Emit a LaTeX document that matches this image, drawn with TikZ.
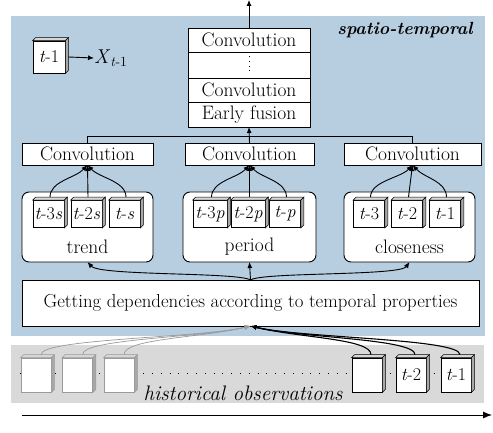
\documentclass[tikz,border=0pt]{standalone}
\usetikzlibrary{arrows.meta}
\definecolor{stblue}{HTML}{B7CDE0}
\definecolor{bandgray}{HTML}{D9D9D9}
\definecolor{fadegray}{HTML}{9A9A9A}
\definecolor{topgray}{HTML}{D6D6D6}
\definecolor{sidegray}{HTML}{A8A8A8}
\newcommand{\cubenode}[5][black]{%
  \node[#2, draw=#1] (#3) at #4 {#5};
  \draw[#1, fill=topgray, line width=0.6pt] (#3.north west) -- ++(3pt,3pt) -- ([shift={(3pt,3pt)}]#3.north east) -- (#3.north east) -- cycle;
  \draw[#1, fill=sidegray, line width=0.6pt] (#3.north east) -- ++(3pt,3pt) -- ([shift={(3pt,3pt)}]#3.south east) -- (#3.south east) -- cycle;
}
\begin{document}
\begin{tikzpicture}[x=1pt,y=-1pt,
  every node/.style={font=\fontsize{19.5}{21}\selectfont},
  box/.style={draw, fill=white, line width=0.9pt, inner sep=0pt, outer sep=0pt},
  stackcell/.style={box, minimum width=122pt},
  convbox/.style={box, minimum height=22pt},
  groupbox/.style={box, rounded corners=7pt, minimum width=131pt, minimum height=70pt},
  smallcube/.style={fill=white, line width=0.8pt, inner sep=0pt, minimum width=31pt, minimum height=27pt, font=\fontsize{18}{20}\selectfont},
  legcube/.style={fill=white, line width=0.8pt, inner sep=0pt, minimum width=32pt, minimum height=32pt, font=\fontsize{18}{20}\selectfont},
  histcube/.style={fill=white, line width=0.8pt, inner sep=0pt, minimum width=30pt, minimum height=34pt, font=\fontsize{18}{20}\selectfont},
  arr/.style={line width=0.9pt, -{Latex[length=6pt,width=5pt]}},
  fadearr/.style={line width=0.7pt, fadegray, -{Latex[length=6pt,width=5pt]}},
  darkarr/.style={line width=1.1pt, -{Latex[length=6pt,width=5pt]}},
  lbl/.style={inner sep=0pt}
]
\useasboundingbox (0,0) rectangle (493,433);
% backgrounds
\fill[stblue] (11,16) rectangle (485,336);
\fill[bandgray] (11,345) rectangle (484,403);

% top stack
\node[stackcell, minimum height=24pt] (c1) at (249,40) {Convolution};
\node[stackcell, minimum height=26pt] (dots) at (249,65) {};
\draw[line width=0.6pt, dash pattern=on 0.8pt off 4pt] (249,56) -- (249,75);
\node[stackcell, minimum height=24pt] (c2) at (249,90) {Convolution};
\node[stackcell, minimum height=25pt] (fusion) at (249,114.5) {Early fusion};
\coordinate (topend) at (249,0);
\draw[arr] (c1.north) -- (topend);

\node[lbl, font=\fontsize{17.6}{20}\selectfont\bfseries\itshape] (st) at (405,30) {spatio-temporal};

% legend
\cubenode[black]{legcube}{leg}{(49,57)}{\textit{t}-1}
\node[lbl, anchor=west, font=\fontsize{20}{22}\selectfont] (X) at (94,58) {\textit{X}\textsubscript{\textit{t}-1}};
\draw[arr] ([xshift=3pt]leg.east) -- (X.west);

% convolution boxes
\node[convbox, minimum width=131pt] (convL) at (87.5,154) {Convolution};
\node[convbox, minimum width=129pt] (convM) at (249.5,154) {Convolution};
\node[convbox, minimum width=137pt] (convR) at (412.5,154) {Convolution};
\coordinate (junc) at (249,136);
\draw[line width=0.9pt] (convL.north) |- (junc);
\draw[line width=0.9pt] (convR.north) |- (junc);
\draw[arr] (convM.north) -- (fusion.south);

% groups
\node[groupbox] (gL) at (87.5,227) {};
\node[groupbox, minimum width=133pt] (gM) at (249.5,227) {};
\node[groupbox] (gR) at (409.5,227) {};
\node[lbl] at (87.5,247) {trend};
\node[lbl] at (249.5,247) {period};
\node[lbl] at (409.5,247) {closeness};

\cubenode{smallcube}{a1}{(48.5,214)}{\textit{t}-3\textit{s}}
\cubenode{smallcube}{a2}{(86.5,214)}{\textit{t}-2\textit{s}}
\cubenode{smallcube}{a3}{(124.5,214)}{\textit{t}-\textit{s}}
\cubenode{smallcube, minimum width=34pt}{b1}{(210,214)}{\textit{t}-3\textit{p}}
\cubenode{smallcube, minimum width=34pt}{b2}{(248,214)}{\textit{t}-2\textit{p}}
\cubenode{smallcube}{b3}{(285,214)}{\textit{t}-\textit{p}}
\cubenode{smallcube}{r1}{(369,214)}{\textit{t}-3}
\cubenode{smallcube}{r2}{(407,214)}{\textit{t}-2}
\cubenode{smallcube}{r3}{(445,214)}{\textit{t}-1}

\foreach \g/\c/\x in {a/convL/87.5, b/convM/249.5, r/convR/412.5}{
  \draw[arr] ([shift={(1.5pt,3pt)}]\g1.north) .. controls +(0,-16) and (\x-12,178) .. (\c.south);
  \draw[arr] ([shift={(1.5pt,3pt)}]\g2.north) -- (\c.south);
  \draw[arr] ([shift={(1.5pt,3pt)}]\g3.north) .. controls +(0,-16) and (\x+12,178) .. (\c.south);
}

% getting dependencies
\node[box, minimum width=457pt, minimum height=46pt, font=\fontsize{18.8}{21}\selectfont] (get) at (250.5,303) {Getting dependencies according to temporal properties};
\draw[arr] (get.north) .. controls (238,272) and (100,276) .. (gL.south);
\draw[arr] (get.north) -- (gM.south);
\draw[arr] (get.north) .. controls (262,272) and (400,276) .. (gR.south);

% historical observations
\coordinate (dotL) at (20,373);
\coordinate (dotR) at (440,373);
\draw[line width=0.8pt, dash pattern=on 0.8pt off 8pt] (dotL) -- (dotR);
\cubenode[fadegray]{histcube}{h1}{(36,375)}{}
\cubenode[fadegray]{histcube}{h2}{(77.5,375)}{}
\cubenode[fadegray]{histcube}{h3}{(119,375)}{}
\cubenode[black]{histcube}{h4}{(367,375)}{}
\cubenode[black]{histcube}{h5}{(411,375)}{\textit{t}-2}
\cubenode[black]{histcube}{h6}{(456,375)}{\textit{t}-1}
\node[lbl, font=\fontsize{21}{23}\selectfont\itshape] (hist) at (243,393) {historical observations};

\foreach \h in {h1,h2,h3}{
  \draw[fadearr] ([shift={(5pt,3pt)}]\h.north) .. controls +(0,-16) and (200,338) .. (get.south);
}
\foreach \h in {h4,h5,h6}{
  \draw[darkarr] ([shift={(4pt,3pt)}]\h.north) .. controls +(0,-16) and (300,338) .. (get.south);
}

% time axis
\coordinate (tL) at (22,415);
\coordinate (tR) at (492,415);
\draw[line width=0.9pt, -{Latex[length=9pt,width=7pt]}] (tL) -- (tR);
\end{tikzpicture}
\end{document}
